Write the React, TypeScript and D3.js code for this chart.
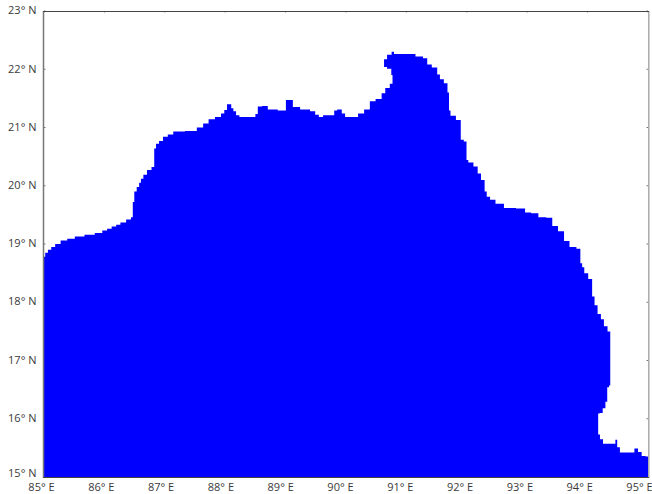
import React from "react";
import * as d3 from "d3";

const coastLon = [85.00,85.04,85.09,85.15,85.22,85.33,85.44,85.58,85.76,85.92,86.01,86.08,86.16,86.23,86.30,86.42,86.46,86.48,86.51,86.56,86.59,86.62,86.67,86.74,86.82,86.83,86.88,86.93,87.01,87.09,87.19,87.48,87.58,87.69,87.76,87.90,87.96,88.01,88.05,88.09,88.11,88.16,88.20,88.27,88.48,88.52,88.56,88.66,88.75,88.99,89.02,89.12,89.12,89.36,89.45,89.53,89.57,89.67,89.80,89.81,89.90,89.96,90.01,90.17,90.23,90.37,90.42,90.56,90.62,90.68,90.77,90.77,90.73,90.63,90.63,90.73,90.78,90.81,91.09,91.21,91.34,91.35,91.49,91.53,91.58,91.66,91.70,91.71,91.75,91.89,91.91,91.99,92.00,92.05,92.17,92.19,92.28,92.31,92.35,92.42,92.53,92.70,92.93,93.00,93.13,93.24,93.39,93.44,93.58,93.64,93.76,93.87,93.89,93.93,93.96,94.06,94.09,94.14,94.19,94.25,94.29,94.37,94.38,94.33,94.32,94.27,94.23,94.17,94.18,94.23,94.28,94.44,94.48,94.50,94.57,94.75,94.80,94.87,94.92,95.00,95.00,85.00];
const coastLat = [18.78,18.85,18.90,18.95,19.00,19.06,19.09,19.13,19.16,19.19,19.23,19.26,19.30,19.33,19.37,19.42,19.46,19.72,19.90,19.98,20.05,20.12,20.19,20.27,20.32,20.64,20.72,20.77,20.84,20.88,20.93,20.94,21.00,21.07,21.14,21.18,21.24,21.30,21.40,21.40,21.33,21.28,21.21,21.18,21.18,21.23,21.36,21.37,21.31,21.29,21.47,21.47,21.35,21.31,21.28,21.22,21.18,21.21,21.21,21.29,21.31,21.24,21.18,21.18,21.24,21.31,21.45,21.49,21.59,21.68,21.75,21.90,22.01,22.04,22.17,22.25,22.30,22.26,22.26,22.22,22.19,22.08,22.03,21.91,21.83,21.76,21.60,21.29,21.20,21.13,20.79,20.76,20.44,20.40,20.33,20.21,20.10,19.90,19.81,19.76,19.69,19.62,19.61,19.54,19.53,19.46,19.45,19.31,19.22,19.05,18.95,18.92,18.67,18.60,18.50,18.40,18.10,17.95,17.80,17.71,17.59,17.50,16.57,16.54,16.29,16.18,16.10,16.09,15.73,15.65,15.57,15.57,15.64,15.51,15.42,15.42,15.49,15.43,15.36,15.35,15.00,15.00];
const lonTicks = [85,86,87,88,89,90,91,92,93,94,95];
const latTicks = [15,16,17,18,19,20,21,22,23];

const WIDTH = 652;
const HEIGHT = 494;
const TEXT = "#3a3a3a";
const FONT = "'Open Sans', 'Noto Sans', sans-serif";

export default function App() {
  const x = d3.scaleLinear().domain([85, 95]).range([44, 648]);
  const y = d3.scaleLinear().domain([15, 23]).range([477, 11]);
  const xLabel = d3.scaleLinear().domain([85, 95]).range([41.5, 639.5]);
  const yLabel = d3.scaleLinear().domain([15, 23]).range([477, 11.5]);
  const pts = coastLon.map((lon, i) => [lon, coastLat[i]] as [number, number]);
  const path = d3
    .line<[number, number]>()
    .x((d) => x(d[0]))
    .y((d) => y(d[1]))
    .curve(d3.curveStep)(pts) as string;

  return (
    <svg
      width={WIDTH}
      height={HEIGHT}
      style={{ position: "absolute", left: 0, top: 0, background: "#fff" }}
    >
      {latTicks.map((t) => (
        <g key={t}>
          <line x1={x(85)} x2={x(85) + 1.5} y1={y(t)} y2={y(t)} stroke="#777" />
          <line x1={x(95)} x2={x(95) - 1.5} y1={y(t)} y2={y(t)} stroke="#777" />
        </g>
      ))}
      {lonTicks.map((t) => (
        <line key={t} x1={x(t)} x2={x(t)} y1={y(23)} y2={y(23) + 1.5} stroke="#777" />
      ))}
      <path d={path + "Z"} fill="#0000ff" />
      <line x1={x(85) - 0.5} x2={x(85) - 0.5} y1={y(23)} y2={y(15) + 1} stroke="#777777" strokeWidth={1.5} />
      <line x1={x(95) + 0.8} x2={x(95) + 0.8} y1={y(23)} y2={y(15) + 1} stroke="#aaaaaa" strokeWidth={1.5} />
      <line x1={x(85) - 1} x2={x(95) + 1} y1={y(23) + 0.5} y2={y(23) + 0.5} stroke="#444444" strokeWidth={1} />
      <line x1={x(85) - 1} x2={x(95) + 1} y1={y(15) + 0.5} y2={y(15) + 0.5} stroke="#444444" strokeWidth={1} />
      {latTicks.map((t) => (
        <text key={t} x={36.5} y={yLabel(t) - (t === 15 ? 3 : 0)} textAnchor="end" dominantBaseline="middle" fontFamily={FONT} fontSize={11} fill={TEXT}>
          {t}° N
        </text>
      ))}
      {lonTicks.map((t) => (
        <text key={t} x={xLabel(t)} y={488.5} textAnchor="middle" dominantBaseline="middle" fontFamily={FONT} fontSize={11} fill={TEXT}>
          {t}° E
        </text>
      ))}
    </svg>
  );
}
